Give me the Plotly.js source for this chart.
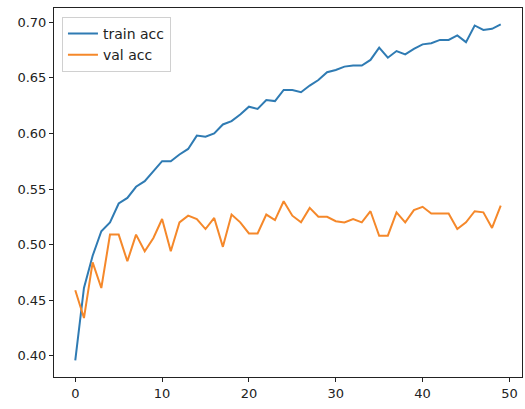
<!DOCTYPE html>
<html>
<head>
<meta charset="utf-8">
<script src="https://cdn.plot.ly/plotly-3.0.1.min.js"></script>
<style>html,body{margin:0;padding:0;background:#fff;}#chart{width:525px;height:409px;}</style>
</head>
<body>
<div id="chart"></div>
<script>
const epochs = Array.from({length: 50}, (_, i) => i);
const trainAcc = [0.396, 0.461, 0.490, 0.512, 0.520, 0.537, 0.542, 0.552, 0.557, 0.566,
                  0.575, 0.575, 0.581, 0.586, 0.598, 0.597, 0.600, 0.608, 0.611, 0.617,
                  0.624, 0.622, 0.630, 0.629, 0.639, 0.639, 0.637, 0.643, 0.648, 0.655,
                  0.657, 0.660, 0.661, 0.661, 0.666, 0.677, 0.668, 0.674, 0.671, 0.676,
                  0.680, 0.681, 0.684, 0.684, 0.688, 0.682, 0.697, 0.693, 0.694, 0.698];
const valAcc = [0.459, 0.434, 0.484, 0.461, 0.509, 0.509, 0.485, 0.509, 0.494, 0.506,
                0.523, 0.494, 0.520, 0.526, 0.523, 0.514, 0.524, 0.498, 0.527, 0.520,
                0.510, 0.510, 0.527, 0.522, 0.539, 0.526, 0.520, 0.533, 0.525, 0.525,
                0.521, 0.520, 0.523, 0.520, 0.530, 0.508, 0.508, 0.529, 0.520, 0.531,
                0.534, 0.528, 0.528, 0.528, 0.514, 0.520, 0.530, 0.529, 0.515, 0.535];
const seriesNames = ['train acc', 'val acc'];
const xTicks = [0, 10, 20, 30, 40, 50];
const yTicks = [0.40, 0.45, 0.50, 0.55, 0.60, 0.65, 0.70];

const font = {family: 'DejaVu Sans, sans-serif', size: 13, color: '#222'};
const data = [
  {x: epochs, y: trainAcc, name: seriesNames[0], type: 'scatter', mode: 'lines',
   line: {color: '#2f7bb3', width: 2}},
  {x: epochs, y: valAcc, name: seriesNames[1], type: 'scatter', mode: 'lines',
   line: {color: '#f5882a', width: 2}}
];
const axisCommon = {
  showline: true, mirror: true, linecolor: '#222', linewidth: 1,
  showgrid: false, zeroline: false, ticks: 'outside', ticklen: 4,
  tickcolor: '#222', tickwidth: 1, tickfont: font
};
const layout = {
  width: 525, height: 409,
  margin: {l: 54, r: 3, t: 8, b: 32},
  paper_bgcolor: '#fff', plot_bgcolor: '#fff',
  font: font,
  showlegend: true,
  legend: {x: 0.017, y: 0.976, xanchor: 'left', yanchor: 'top',
           bgcolor: 'rgba(255,255,255,0.8)', bordercolor: '#d0d0d0', borderwidth: 1,
           font: {family: 'DejaVu Sans, sans-serif', size: 14, color: '#222'},
           itemwidth: 30, tracegroupgap: 0},
  xaxis: Object.assign({}, axisCommon, {range: [-2.45, 51.45], tickmode: 'array', tickvals: xTicks}),
  yaxis: Object.assign({}, axisCommon, {range: [0.381, 0.7127], tickmode: 'array', tickvals: yTicks,
                                         tickformat: '.2f'})
};
Plotly.newPlot('chart', data, layout, {displayModeBar: false, staticPlot: true});
</script>
</body>
</html>
